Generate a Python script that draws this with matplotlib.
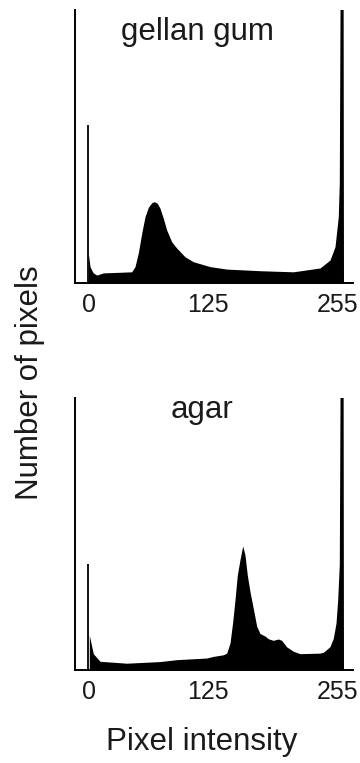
import numpy as np
import matplotlib.pyplot as plt
from matplotlib.transforms import ScaledTranslation

plt.rcParams['font.family'] = ['Liberation Sans', 'DejaVu Sans']

# histogram outlines (arbitrary count units, axis top = 100)
gellan_x = [0.3, 2, 5, 8.7, 15.3, 30, 43.7, 47, 50.3, 53.7, 57, 60.3, 63.7, 66.3, 69.3,
            72, 75.3, 78.7, 83.7, 88.7, 97, 105.3, 122, 138.7, 172, 205.3, 232, 242,
            247, 250.3, 251.3, 252.5, 255, 255.5]
gellan_y = [11, 6, 3.8, 2.9, 3.7, 3.9, 4.1, 6, 11, 18.2, 24.3, 27.7, 29.4, 29.8, 29.2,
            27.4, 23.7, 19.4, 15.1, 12.8, 9.6, 7.8, 6.0, 5.1, 4.5, 4.1, 5.5, 8.4,
            13.3, 24.3, 37, 140, 140, 0]
gellan_zero_spike = 57.9

agar_x = [1.3, 5.3, 12, 38.7, 72, 88.7, 118.7, 125.3, 135.3, 138.7, 142, 144.7, 147,
          149.3, 152, 154.7, 157, 159.3, 162, 165.3, 168.7, 172, 177, 180.3, 185.3,
          190.3, 193.7, 198.7, 205.3, 212, 232, 235.3, 242, 245.3, 248, 249.7, 251.3,
          252.5, 255, 255.5]
agar_y = [12.8, 6.0, 3.2, 2.5, 3.1, 3.8, 4.4, 5.0, 5.6, 6.2, 9.9, 17.7, 25.8,
          34.9, 40.6, 45.6, 42.3, 34.9, 28.8, 22.6, 16.1, 13.4, 12.5, 11.5, 10.9,
          11.4, 10.9, 8.5, 6.9, 6.0, 6.2, 6.5, 8.6, 11.7, 17.2, 25.8, 38.8,
          140, 140, 0]
agar_zero_spike = 38.9

ticks = [0, 125, 255]
text_col = '#1a1a1a'

fig = plt.figure(figsize=(3.6, 7.63), dpi=100)
ax1 = fig.add_axes([75/360, 1 - 283/763, 278/360, 273/763])
ax2 = fig.add_axes([75/360, 1 - 670/763, 278/360, 272/763])

label_shift = [1, -5, -5]  # px, to follow the reference label placement

for ax, xs, ys, spike in [(ax1, gellan_x, gellan_y, gellan_zero_spike),
                          (ax2, agar_x, agar_y, agar_zero_spike)]:
    ax.fill_between(xs, 0, ys, color='black', linewidth=0)
    ax.vlines(0, 0, spike, color='black', linewidth=1.3)
    ax.set_xlim(-13, 265)
    ax.set_ylim(0, 100)
    ax.spines['top'].set_visible(False)
    ax.spines['right'].set_visible(False)
    for s in ['left', 'bottom']:
        ax.spines[s].set_linewidth(1.4)
        ax.spines[s].set_color('black')
    ax.set_yticks([])
    ax.set_xticks(ticks)
    ax.set_xticklabels([str(t) for t in ticks])
    ax.tick_params(axis='x', length=0, pad=7, labelsize=18, labelcolor=text_col)
    for lab, dx in zip(ax.get_xticklabels(), label_shift):
        lab.set_transform(lab.get_transform() + ScaledTranslation(dx / 100, 0, fig.dpi_scale_trans))

fs = 22.5
fig.text(197/360, 1 - 40/763, 'gellan gum', ha='center', va='baseline', fontsize=fs, color=text_col)
fig.text(202/360, 1 - 418/763, 'agar', ha='center', va='baseline', fontsize=fs, color=text_col)
fig.text(30/360, 1 - 383/763, 'Number of pixels', ha='center', va='center',
         rotation=90, fontsize=fs, color=text_col)
fig.text(202/360, 1 - 750/763, 'Pixel intensity', ha='center', va='baseline', fontsize=fs, color=text_col)

fig.savefig('out.png', dpi=100)
